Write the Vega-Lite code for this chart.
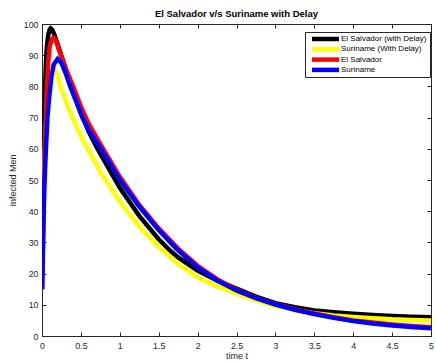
{
  "$schema": "https://vega.github.io/schema/vega-lite/v6.json",
  "autosize": "none",
  "padding": {"left": 42, "top": 24, "right": 5, "bottom": 27},
  "width": 389,
  "height": 312,
  "config": {
    "font": "Liberation Sans",
    "view": {"stroke": "#262626", "strokeWidth": 1},
    "axis": {"grid": false, "labelFont": "Liberation Sans", "titleFont": "Liberation Sans", "labelColor": "#262626", "titleColor": "#262626", "domainColor": "#262626", "tickColor": "#262626", "labelFontSize": 8.8, "titleFontSize": 9, "titleFontWeight": "normal"}
  },
  "title": {"text": "El Salvador v/s Suriname with Delay", "fontSize": 9.5, "fontWeight": "bold", "color": "#000000", "offset": 2, "anchor": "middle"},
  "datasets": {
    "curves": [
      {"s": "El Salvador (with Delay)", "t": 0, "v": 15},
      {"s": "El Salvador (with Delay)", "t": 0.01, "v": 35},
      {"s": "El Salvador (with Delay)", "t": 0.02, "v": 55},
      {"s": "El Salvador (with Delay)", "t": 0.03, "v": 70},
      {"s": "El Salvador (with Delay)", "t": 0.04, "v": 80},
      {"s": "El Salvador (with Delay)", "t": 0.05, "v": 87},
      {"s": "El Salvador (with Delay)", "t": 0.06, "v": 92},
      {"s": "El Salvador (with Delay)", "t": 0.08, "v": 96.5},
      {"s": "El Salvador (with Delay)", "t": 0.1, "v": 98.3},
      {"s": "El Salvador (with Delay)", "t": 0.11, "v": 98.6},
      {"s": "El Salvador (with Delay)", "t": 0.13, "v": 98.2},
      {"s": "El Salvador (with Delay)", "t": 0.16, "v": 96.5},
      {"s": "El Salvador (with Delay)", "t": 0.2, "v": 93.5},
      {"s": "El Salvador (with Delay)", "t": 0.3, "v": 86},
      {"s": "El Salvador (with Delay)", "t": 0.4, "v": 78.5},
      {"s": "El Salvador (with Delay)", "t": 0.5, "v": 71.5},
      {"s": "El Salvador (with Delay)", "t": 0.6, "v": 65.5},
      {"s": "El Salvador (with Delay)", "t": 0.713, "v": 60},
      {"s": "El Salvador (with Delay)", "t": 1.0, "v": 47.5},
      {"s": "El Salvador (with Delay)", "t": 1.25, "v": 38.5},
      {"s": "El Salvador (with Delay)", "t": 1.5, "v": 31},
      {"s": "El Salvador (with Delay)", "t": 1.64, "v": 27.5},
      {"s": "El Salvador (with Delay)", "t": 1.75, "v": 25.2},
      {"s": "El Salvador (with Delay)", "t": 2.0, "v": 21},
      {"s": "El Salvador (with Delay)", "t": 2.25, "v": 17.8},
      {"s": "El Salvador (with Delay)", "t": 2.5, "v": 15.2},
      {"s": "El Salvador (with Delay)", "t": 2.75, "v": 12.6},
      {"s": "El Salvador (with Delay)", "t": 3.0, "v": 10.5},
      {"s": "El Salvador (with Delay)", "t": 3.25, "v": 9.2},
      {"s": "El Salvador (with Delay)", "t": 3.5, "v": 8.2},
      {"s": "El Salvador (with Delay)", "t": 3.75, "v": 7.6},
      {"s": "El Salvador (with Delay)", "t": 4.0, "v": 7.1},
      {"s": "El Salvador (with Delay)", "t": 4.25, "v": 6.7},
      {"s": "El Salvador (with Delay)", "t": 4.5, "v": 6.4},
      {"s": "El Salvador (with Delay)", "t": 4.75, "v": 6.2},
      {"s": "El Salvador (with Delay)", "t": 5.0, "v": 6.0},
      {"s": "Suriname (With Delay)", "t": 0, "v": 15},
      {"s": "Suriname (With Delay)", "t": 0.01, "v": 30},
      {"s": "Suriname (With Delay)", "t": 0.02, "v": 45},
      {"s": "Suriname (With Delay)", "t": 0.04, "v": 62},
      {"s": "Suriname (With Delay)", "t": 0.06, "v": 72},
      {"s": "Suriname (With Delay)", "t": 0.08, "v": 78},
      {"s": "Suriname (With Delay)", "t": 0.1, "v": 81.5},
      {"s": "Suriname (With Delay)", "t": 0.13, "v": 84},
      {"s": "Suriname (With Delay)", "t": 0.17, "v": 85},
      {"s": "Suriname (With Delay)", "t": 0.2, "v": 83.5},
      {"s": "Suriname (With Delay)", "t": 0.237, "v": 80},
      {"s": "Suriname (With Delay)", "t": 0.3, "v": 75.5},
      {"s": "Suriname (With Delay)", "t": 0.4, "v": 69.5},
      {"s": "Suriname (With Delay)", "t": 0.5, "v": 64},
      {"s": "Suriname (With Delay)", "t": 0.586, "v": 60},
      {"s": "Suriname (With Delay)", "t": 0.75, "v": 52.5},
      {"s": "Suriname (With Delay)", "t": 1.0, "v": 43},
      {"s": "Suriname (With Delay)", "t": 1.25, "v": 35},
      {"s": "Suriname (With Delay)", "t": 1.5, "v": 28.5},
      {"s": "Suriname (With Delay)", "t": 1.75, "v": 23},
      {"s": "Suriname (With Delay)", "t": 2.0, "v": 18.7},
      {"s": "Suriname (With Delay)", "t": 2.25, "v": 15.9},
      {"s": "Suriname (With Delay)", "t": 2.5, "v": 13.6},
      {"s": "Suriname (With Delay)", "t": 2.75, "v": 11.4},
      {"s": "Suriname (With Delay)", "t": 3.0, "v": 9.6},
      {"s": "Suriname (With Delay)", "t": 3.25, "v": 8.3},
      {"s": "Suriname (With Delay)", "t": 3.5, "v": 7.3},
      {"s": "Suriname (With Delay)", "t": 3.75, "v": 6.6},
      {"s": "Suriname (With Delay)", "t": 4.0, "v": 6.1},
      {"s": "Suriname (With Delay)", "t": 4.25, "v": 5.7},
      {"s": "Suriname (With Delay)", "t": 4.5, "v": 5.35},
      {"s": "Suriname (With Delay)", "t": 4.75, "v": 5.15},
      {"s": "Suriname (With Delay)", "t": 5.0, "v": 5.0},
      {"s": "El Salvador", "t": 0, "v": 15},
      {"s": "El Salvador", "t": 0.02, "v": 40},
      {"s": "El Salvador", "t": 0.04, "v": 62},
      {"s": "El Salvador", "t": 0.06, "v": 78},
      {"s": "El Salvador", "t": 0.08, "v": 88},
      {"s": "El Salvador", "t": 0.1, "v": 93},
      {"s": "El Salvador", "t": 0.13, "v": 95.3},
      {"s": "El Salvador", "t": 0.15, "v": 95.5},
      {"s": "El Salvador", "t": 0.18, "v": 94.5},
      {"s": "El Salvador", "t": 0.22, "v": 91.5},
      {"s": "El Salvador", "t": 0.3, "v": 86},
      {"s": "El Salvador", "t": 0.4, "v": 80},
      {"s": "El Salvador", "t": 0.5, "v": 73.5},
      {"s": "El Salvador", "t": 0.6, "v": 68},
      {"s": "El Salvador", "t": 0.75, "v": 61.5},
      {"s": "El Salvador", "t": 1.0, "v": 51},
      {"s": "El Salvador", "t": 1.25, "v": 42},
      {"s": "El Salvador", "t": 1.5, "v": 34.5},
      {"s": "El Salvador", "t": 1.75, "v": 28},
      {"s": "El Salvador", "t": 2.0, "v": 22.5},
      {"s": "El Salvador", "t": 2.25, "v": 18.2},
      {"s": "El Salvador", "t": 2.5, "v": 14.8},
      {"s": "El Salvador", "t": 2.75, "v": 12.2},
      {"s": "El Salvador", "t": 3.0, "v": 10.2},
      {"s": "El Salvador", "t": 3.25, "v": 8.6},
      {"s": "El Salvador", "t": 3.5, "v": 7.2},
      {"s": "El Salvador", "t": 3.75, "v": 6.0},
      {"s": "El Salvador", "t": 4.0, "v": 5.0},
      {"s": "El Salvador", "t": 4.25, "v": 4.3},
      {"s": "El Salvador", "t": 4.5, "v": 3.7},
      {"s": "El Salvador", "t": 4.75, "v": 3.2},
      {"s": "El Salvador", "t": 5.0, "v": 2.8},
      {"s": "Suriname", "t": 0, "v": 15},
      {"s": "Suriname", "t": 0.01, "v": 25},
      {"s": "Suriname", "t": 0.02, "v": 38},
      {"s": "Suriname", "t": 0.03, "v": 48},
      {"s": "Suriname", "t": 0.05, "v": 60},
      {"s": "Suriname", "t": 0.07, "v": 70},
      {"s": "Suriname", "t": 0.09, "v": 76},
      {"s": "Suriname", "t": 0.12, "v": 83},
      {"s": "Suriname", "t": 0.15, "v": 87},
      {"s": "Suriname", "t": 0.2, "v": 88.8},
      {"s": "Suriname", "t": 0.25, "v": 87.5},
      {"s": "Suriname", "t": 0.3, "v": 84.5},
      {"s": "Suriname", "t": 0.363, "v": 80},
      {"s": "Suriname", "t": 0.45, "v": 74.5},
      {"s": "Suriname", "t": 0.52, "v": 70},
      {"s": "Suriname", "t": 0.6, "v": 66},
      {"s": "Suriname", "t": 0.755, "v": 60},
      {"s": "Suriname", "t": 1.0, "v": 50},
      {"s": "Suriname", "t": 1.25, "v": 41.5},
      {"s": "Suriname", "t": 1.5, "v": 34},
      {"s": "Suriname", "t": 1.725, "v": 28},
      {"s": "Suriname", "t": 2.0, "v": 22},
      {"s": "Suriname", "t": 2.25, "v": 17.8},
      {"s": "Suriname", "t": 2.5, "v": 14.6},
      {"s": "Suriname", "t": 2.75, "v": 12.1},
      {"s": "Suriname", "t": 3.0, "v": 10.1},
      {"s": "Suriname", "t": 3.25, "v": 8.4},
      {"s": "Suriname", "t": 3.5, "v": 7.0},
      {"s": "Suriname", "t": 3.75, "v": 5.8},
      {"s": "Suriname", "t": 4.0, "v": 4.8},
      {"s": "Suriname", "t": 4.25, "v": 4.0},
      {"s": "Suriname", "t": 4.5, "v": 3.4},
      {"s": "Suriname", "t": 4.75, "v": 2.9},
      {"s": "Suriname", "t": 5.0, "v": 2.5}
    ]
  },
  "data": {"name": "curves"},
  "resolve": {"axis": {"x": "independent", "y": "independent"}},
  "layer": [
    {
      "transform": [{"filter": "datum.s === 'El Salvador (with Delay)'"}],
      "mark": {"type": "line", "strokeWidth": 4.5, "clip": true},
      "encoding": {
        "x": {"field": "t", "type": "quantitative", "scale": {"domain": [0, 5], "nice": false}, "axis": {"orient": "bottom", "title": "time t", "values": [0, 0.5, 1, 1.5, 2, 2.5, 3, 3.5, 4, 4.5, 5], "labelExpr": "'' + datum.value", "labelFlush": false, "labelOverlap": false, "tickSize": -4, "labelPadding": 9, "titlePadding": 2}},
        "y": {"field": "v", "type": "quantitative", "scale": {"domain": [0, 100], "nice": false}, "axis": {"orient": "left", "title": "Infected Men", "values": [0, 10, 20, 30, 40, 50, 60, 70, 80, 90, 100], "tickSize": -4, "labelPadding": 8, "titlePadding": 6}},
        "color": {"field": "s", "type": "nominal", "scale": {"domain": ["El Salvador (with Delay)", "Suriname (With Delay)", "El Salvador", "Suriname"], "range": ["#000000", "#ffff00", "#ff0000", "#0000ff"]},
          "legend": {"title": null, "orient": "none", "legendX": 263, "legendY": 8, "symbolType": "M0,0H27", "symbolSize": 4, "symbolStrokeWidth": 4.5, "labelFontSize": 8, "labelColor": "#000000", "labelLimit": 200, "labelExpr": "datum.label === 'Suriname (With Delay)' || datum.label === 'Suriname' ? '\u00a0' + datum.label : datum.label", "strokeColor": "#262626", "fillColor": "#ffffff", "padding": 3, "rowPadding": 2.3, "labelOffset": 25,
            "encode": {"symbols": {"update": {"strokeJoin": {"value": "bevel"}, "strokeCap": {"value": "butt"}}}}}}
      }
    },
    {
      "transform": [{"filter": "datum.s === 'Suriname (With Delay)'"}],
      "mark": {"type": "line", "strokeWidth": 4.5, "clip": true},
      "encoding": {
        "x": {"field": "t", "type": "quantitative", "axis": {"orient": "top", "title": null, "labels": false, "domain": false, "tickSize": -4, "values": [0, 0.5, 1, 1.5, 2, 2.5, 3, 3.5, 4, 4.5, 5]}},
        "y": {"field": "v", "type": "quantitative", "axis": {"orient": "right", "title": null, "labels": false, "domain": false, "tickSize": -4, "values": [0, 10, 20, 30, 40, 50, 60, 70, 80, 90, 100]}},
        "color": {"field": "s", "type": "nominal"}
      }
    },
    {
      "transform": [{"filter": "datum.s === 'El Salvador'"}],
      "mark": {"type": "line", "strokeWidth": 4.5, "clip": true},
      "encoding": {
        "x": {"field": "t", "type": "quantitative", "axis": null},
        "y": {"field": "v", "type": "quantitative", "axis": null},
        "color": {"field": "s", "type": "nominal"}
      }
    },
    {
      "transform": [{"filter": "datum.s === 'Suriname'"}],
      "mark": {"type": "line", "strokeWidth": 4.5, "clip": true},
      "encoding": {
        "x": {"field": "t", "type": "quantitative", "axis": null},
        "y": {"field": "v", "type": "quantitative", "axis": null},
        "color": {"field": "s", "type": "nominal"}
      }
    }
  ]
}
